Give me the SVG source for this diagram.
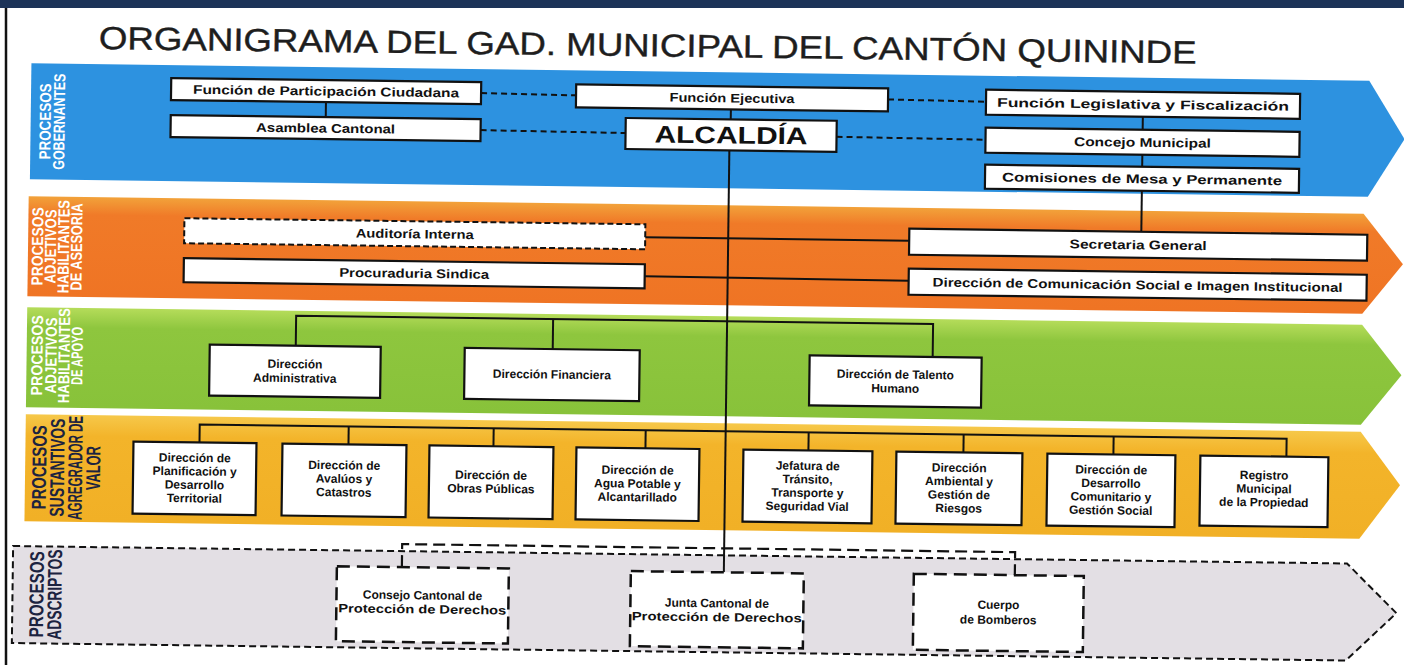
<svg xmlns="http://www.w3.org/2000/svg" width="1404" height="665" viewBox="0 0 1404 665">
<defs>
<style>
.bx{fill:#fff;stroke:#111;stroke-width:2.2}
.bxd{fill:#fff;stroke:#111;stroke-width:2;stroke-dasharray:6 3}
.bxa{fill:#fff;stroke:#111;stroke-width:2.5;stroke-dasharray:13 7}
.t{font-family:"Liberation Sans",Arial,sans-serif;font-weight:bold;font-size:12.5px;fill:#111;text-anchor:middle}
.tg{font-family:"Liberation Sans",Arial,sans-serif;font-weight:bold;font-size:12px;fill:#111;text-anchor:middle}
.lw{font-family:"Liberation Sans Narrow","Liberation Sans",Arial,sans-serif;font-weight:bold;font-size:16px;fill:#fff;text-anchor:middle}
.ld{font-family:"Liberation Sans Narrow","Liberation Sans",Arial,sans-serif;font-weight:bold;font-size:20px;fill:#1c2340;text-anchor:middle}
.ln{fill:none;stroke:#111;stroke-width:2}
.lnd{fill:none;stroke:#111;stroke-width:2;stroke-dasharray:6 4}
.lnda{fill:none;stroke:#111;stroke-width:2.2;stroke-dasharray:12 6}
</style>
<linearGradient id="gOr" x1="0" y1="0" x2="0" y2="1">
<stop offset="0" stop-color="#f2a23a"/><stop offset="0.18" stop-color="#f07a28"/><stop offset="1" stop-color="#ef7424"/>
</linearGradient>
<linearGradient id="gGr" x1="0" y1="0" x2="0" y2="1">
<stop offset="0" stop-color="#b5dc5a"/><stop offset="0.2" stop-color="#8ec63e"/><stop offset="1" stop-color="#88c23a"/>
</linearGradient>
<linearGradient id="gGo" x1="0" y1="0" x2="0" y2="1">
<stop offset="0" stop-color="#f6c84a"/><stop offset="0.2" stop-color="#f3b42a"/><stop offset="1" stop-color="#f1b026"/>
</linearGradient>
</defs>
<rect x="0" y="0" width="1404" height="665" fill="#fff"/>
<rect x="0" y="0" width="1404" height="8" fill="#1c3358"/>
<line x1="6" y1="8" x2="6" y2="665" stroke="#111" stroke-width="2.5"/>
<g transform="rotate(0.75 700 330)">
<text id="title" x="644" y="57" font-family="'Liberation Sans',Arial,sans-serif" font-size="32" fill="#1e1e1e" stroke="#1e1e1e" stroke-width="0.4" text-anchor="middle" textLength="1098" lengthAdjust="spacingAndGlyphs">ORGANIGRAMA DEL GAD. MUNICIPAL DEL CANTÓN QUININDE</text>
<g id="bands">
<polygon id="band-gobernantes" points="28,72 1366,72 1402,130 1366,188 28,188" fill="#2d92e0"/>
<polygon id="band-asesoria" points="27,205 1362,205 1402,255 1362,305 27,305" fill="url(#gOr)"/>
<polygon id="band-apoyo" points="27,316 1362,316 1402,366 1362,416 27,416" fill="url(#gGr)"/>
<polygon id="band-valor" points="27,423 1362,423 1402,476 1362,530 27,530" fill="url(#gGo)"/>
<polygon id="band-adscriptos" points="16,555 1350,555 1400,604 1350,652 16,652" fill="#e3dfe4" stroke="#111" stroke-width="2" stroke-dasharray="7 4"/>
</g>
<g id="band-labels">
<g id="lbl-gobernantes">
<text class="lw" transform="translate(48,130) rotate(-90)" textLength="76" lengthAdjust="spacingAndGlyphs">PROCESOS</text>
<text class="lw" transform="translate(62,130) rotate(-90)" textLength="96" lengthAdjust="spacingAndGlyphs">GOBERNANTES</text>
</g>
<g id="lbl-asesoria">
<text class="lw" transform="translate(42,255) rotate(-90)" textLength="78" lengthAdjust="spacingAndGlyphs">PROCESOS</text>
<text class="lw" transform="translate(55,255) rotate(-90)" textLength="74" lengthAdjust="spacingAndGlyphs">ADJETIVOS</text>
<text class="lw" transform="translate(68,255) rotate(-90)" textLength="93" lengthAdjust="spacingAndGlyphs">HABILITANTES</text>
<text class="lw" transform="translate(81,255) rotate(-90)" textLength="87" lengthAdjust="spacingAndGlyphs">DE ASESORÍA</text>
</g>
<g id="lbl-apoyo">
<text class="lw" transform="translate(43,364) rotate(-90)" textLength="80" lengthAdjust="spacingAndGlyphs">PROCESOS</text>
<text class="lw" transform="translate(57,364) rotate(-90)" textLength="76" lengthAdjust="spacingAndGlyphs">ADJETIVOS</text>
<text class="lw" transform="translate(70,364) rotate(-90)" textLength="95" lengthAdjust="spacingAndGlyphs">HABILITANTES</text>
<text class="lw" transform="translate(83,364) rotate(-90)" textLength="58" lengthAdjust="spacingAndGlyphs">DE APOYO</text>
</g>
<g id="lbl-valor">
<text class="ld" transform="translate(48,476) rotate(-90)" textLength="84" lengthAdjust="spacingAndGlyphs">PROCESOS</text>
<text class="ld" transform="translate(66,476) rotate(-90)" textLength="98" lengthAdjust="spacingAndGlyphs">SUSTANTIVOS</text>
<text class="ld" transform="translate(84,476) rotate(-90)" textLength="104" lengthAdjust="spacingAndGlyphs">AGREGRADOR DE</text>
<text class="ld" transform="translate(102,476) rotate(-90)" textLength="44" lengthAdjust="spacingAndGlyphs">VALOR</text>
</g>
<g id="lbl-adscriptos">
<text class="ld" transform="translate(47,603) rotate(-90)" textLength="86" lengthAdjust="spacingAndGlyphs">PROCESOS</text>
<text class="ld" transform="translate(65,603) rotate(-90)" textLength="90" lengthAdjust="spacingAndGlyphs">ADSCRIPTOS</text>
</g>
</g>
<g id="connectors">
<line class="ln" x1="323" y1="107" x2="323" y2="122"/>
<line class="ln" x1="728" y1="109" x2="728" y2="119"/>
<line class="ln" x1="1140" y1="111" x2="1140" y2="124"/>
<line class="ln" x1="1140" y1="149" x2="1140" y2="161"/>
<line class="lnd" x1="478" y1="96" x2="573" y2="97"/>
<line class="lnd" x1="885" y1="97" x2="983" y2="98"/>
<line class="lnd" x1="478" y1="133" x2="623" y2="134"/>
<line class="lnd" x1="834" y1="135" x2="983" y2="136"/>
<line class="ln" x1="1140" y1="185" x2="1140" y2="226"/>
<line class="ln" x1="644" y1="238" x2="908" y2="238"/>
<line class="ln" x1="644" y1="277" x2="908" y2="278"/>
<line class="ln" stroke-width="2.5" x1="727" y1="150" x2="727" y2="572"/>
<polyline class="ln" points="296,351 296,321 933,321 933,354"/>
<line class="ln" x1="553" y1="321" x2="553" y2="351"/>
<polyline class="ln" points="201,449 201,431 1288,431 1288,449"/>
<line class="ln" x1="350" y1="431" x2="350" y2="449"/>
<line class="ln" x1="495" y1="431" x2="495" y2="449"/>
<line class="ln" x1="647" y1="431" x2="647" y2="449"/>
<line class="ln" x1="810" y1="431" x2="810" y2="449"/>
<line class="ln" x1="965" y1="431" x2="965" y2="449"/>
<line class="ln" x1="1115" y1="431" x2="1115" y2="449"/>
<polyline class="lnda" points="405,571 405,548 1018,548 1018,571"/>
</g>
<g id="n-participacion"><rect class="bx" x="168" y="85" width="310" height="22"/><text class="t" x="323" y="100.5" textLength="266" lengthAdjust="spacingAndGlyphs">Función de Participación Ciudadana</text></g>
<g id="n-asamblea"><rect class="bx" x="168" y="122" width="310" height="22"/><text class="t" x="323" y="137.5" textLength="139" lengthAdjust="spacingAndGlyphs">Asamblea Cantonal</text></g>
<g id="n-ejecutiva"><rect class="bx" x="573" y="86" width="312" height="23"/><text class="t" x="729" y="102" textLength="125" lengthAdjust="spacingAndGlyphs">Función Ejecutiva</text></g>
<g id="n-alcaldia"><rect class="bx" stroke-width="2.5" x="623" y="119" width="211" height="31"/><text class="t" x="728.5" y="143" textLength="153" lengthAdjust="spacingAndGlyphs" style="font-size:24px">ALCALDÍA</text></g>
<g id="n-legislativa"><rect class="bx" x="983" y="86" width="314" height="25"/><text class="t" x="1140" y="103" textLength="292" lengthAdjust="spacingAndGlyphs">Función Legislativa y Fiscalización</text></g>
<g id="n-concejo"><rect class="bx" x="983" y="124" width="314" height="25"/><text class="t" x="1140" y="141" textLength="137" lengthAdjust="spacingAndGlyphs">Concejo Municipal</text></g>
<g id="n-comisiones"><rect class="bx" x="983" y="161" width="314" height="24"/><text class="t" x="1140" y="177.5" textLength="280" lengthAdjust="spacingAndGlyphs">Comisiones de Mesa y Permanente</text></g>
<g id="n-auditoria"><rect class="bxd" x="183" y="225" width="461" height="25"/><text class="t" x="413.5" y="242" textLength="118" lengthAdjust="spacingAndGlyphs">Auditoría Interna</text></g>
<g id="n-procuraduria"><rect class="bx" x="183" y="265" width="461" height="24"/><text class="t" x="413.5" y="281.5" textLength="150" lengthAdjust="spacingAndGlyphs">Procuraduria Sindica</text></g>
<g id="n-secretaria"><rect class="bx" x="908" y="226" width="458" height="26"/><text class="t" x="1137" y="243.5" textLength="137" lengthAdjust="spacingAndGlyphs">Secretaria General</text></g>
<g id="n-comunicacion"><rect class="bx" x="908" y="266" width="458" height="26"/><text class="t" x="1137" y="283.5" textLength="410" lengthAdjust="spacingAndGlyphs">Dirección de Comunicación Social e Imagen Institucional</text></g>
<g id="n-administrativa"><rect class="bx" x="210" y="351" width="171" height="51"/><text class="tg" x="295.5" y="373.5">Dirección</text><text class="tg" x="295.5" y="387.5">Administrativa</text></g>
<g id="n-financiera"><rect class="bx" x="465" y="351" width="175" height="51"/><text class="tg" x="552.5" y="380.5">Dirección Financiera</text></g>
<g id="n-talento"><rect class="bx" x="810" y="354" width="172" height="50"/><text class="tg" x="896" y="376">Dirección de Talento</text><text class="tg" x="896" y="390">Humano</text></g>
<g id="n-planificacion"><rect class="bx" x="135" y="449" width="123" height="72"/><text class="tg" x="196.5" y="468.5">Dirección de</text><text class="tg" x="196.5" y="482">Planificación  y</text><text class="tg" x="196.5" y="495.5">Desarrollo</text><text class="tg" x="196.5" y="509">Territorial</text></g>
<g id="n-avaluos"><rect class="bx" x="284" y="449" width="124" height="72"/><text class="tg" x="346" y="474">Dirección de</text><text class="tg" x="346" y="487.5">Avalúos y</text><text class="tg" x="346" y="501">Catastros</text></g>
<g id="n-obras"><rect class="bx" x="431" y="449" width="124" height="72"/><text class="tg" x="493" y="482">Dirección de</text><text class="tg" x="493" y="495.5">Obras Públicas</text></g>
<g id="n-agua"><rect class="bx" x="578" y="449" width="123" height="72"/><text class="tg" x="639.5" y="475">Dirección de</text><text class="tg" x="639.5" y="488.5">Agua Potable y</text><text class="tg" x="639.5" y="502">Alcantarillado</text></g>
<g id="n-transito"><rect class="bx" x="745" y="449" width="129" height="72"/><text class="tg" x="809.5" y="468.5">Jefatura  de</text><text class="tg" x="809.5" y="482">Tránsito,</text><text class="tg" x="809.5" y="495.5">Transporte y</text><text class="tg" x="809.5" y="509">Seguridad  Vial</text></g>
<g id="n-ambiental"><rect class="bx" x="898" y="449" width="126" height="72"/><text class="tg" x="961" y="468.5">Dirección</text><text class="tg" x="961" y="482">Ambiental y</text><text class="tg" x="961" y="495.5">Gestión de</text><text class="tg" x="961" y="509">Riesgos</text></g>
<g id="n-comunitario"><rect class="bx" x="1049" y="449" width="128" height="72"/><text class="tg" x="1113" y="468.5">Dirección de</text><text class="tg" x="1113" y="482">Desarrollo</text><text class="tg" x="1113" y="495.5">Comunitario y</text><text class="tg" x="1113" y="509">Gestión Social</text></g>
<g id="n-registro"><rect class="bx" x="1202" y="449" width="128" height="70"/><text class="tg" x="1266" y="472">Registro</text><text class="tg" x="1266" y="485.5">Municipal</text><text class="tg" x="1266" y="499">de la Propiedad</text></g>
<g id="n-consejo"><rect class="bxa" x="340" y="571" width="172" height="75"/><text class="tg" x="426" y="603">Consejo Cantonal de</text><text class="tg" x="426" y="617" textLength="168" lengthAdjust="spacingAndGlyphs">Protección de Derechos</text></g>
<g id="n-junta"><rect class="bxa" x="634" y="572" width="173" height="75"/><text class="tg" x="720.5" y="607">Junta Cantonal de</text><text class="tg" x="720.5" y="621" textLength="170" lengthAdjust="spacingAndGlyphs">Protección de Derechos</text></g>
<g id="n-bomberos"><rect class="bxa" x="917" y="571" width="170" height="76"/><text class="tg" x="1002" y="605">Cuerpo</text><text class="tg" x="1002" y="620">de Bomberos</text></g>
</g>
</svg>
